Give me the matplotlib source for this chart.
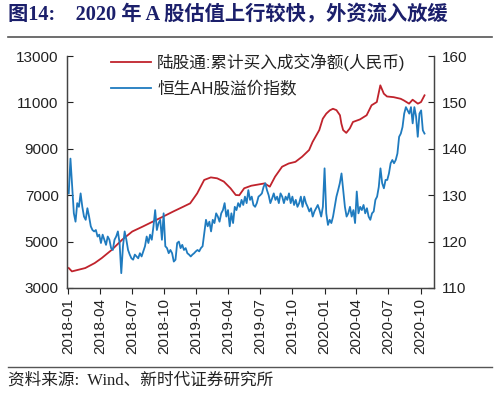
import matplotlib
matplotlib.use("Agg")
import matplotlib.pyplot as plt
import matplotlib.dates as mdates
import pandas as pd
import numpy as np

# ---------------- data ----------------
red_dates = ["2018-01-02", "2018-01-11", "2018-02-18", "2018-03-17", "2018-04-06",
             "2018-05-05", "2018-06-03", "2018-07-02", "2018-08-01", "2018-08-30",
             "2018-09-28", "2018-10-27", "2018-11-25", "2018-12-14", "2019-01-03",
             "2019-01-23", "2019-02-11", "2019-03-01", "2019-03-20", "2019-04-08",
             "2019-04-23", "2019-05-03", "2019-05-17", "2019-06-06", "2019-07-14",
             "2019-07-29", "2019-08-13", "2019-09-02", "2019-09-21", "2019-10-10",
             "2019-10-29", "2019-11-18", "2019-11-28", "2019-12-17", "2019-12-27",
             "2020-01-06", "2020-01-16", "2020-01-25", "2020-02-04", "2020-02-14",
             "2020-02-18", "2020-02-23", "2020-03-03", "2020-03-13", "2020-03-22",
             "2020-04-11", "2020-04-30", "2020-05-14", "2020-05-29", "2020-06-08",
             "2020-06-18", "2020-06-27", "2020-07-16", "2020-08-05", "2020-08-14",
             "2020-08-29", "2020-09-08", "2020-09-23", "2020-10-02", "2020-10-12"]
red_values = [3860, 3716, 3860, 4075, 4290,
              4650, 5080, 5436, 5650, 5866,
              6080, 6300, 6510, 6650, 7080,
              7660, 7770, 7730, 7590, 7300,
              7010, 7000, 7300, 7410, 7510,
              7370, 7800, 8230, 8370, 8440,
              8660, 8950, 9300, 9810, 10300,
              10520, 10660, 10730, 10670, 10450,
              10090, 9810, 9690, 9880, 10160,
              10270, 10450, 10880, 11020, 11740,
              11380, 11260, 11230, 11160, 11090,
              10950, 11120, 10950, 11020, 11310]

blue_start = "2018-01-02"
blue_end = "2020-10-12"
blue_values = [
    130.4, 137.9, 131.8, 126.1, 124.3, 128.3, 127.5, 130.4, 127.5, 125.4,
    124.7, 127.2, 125.4, 123.3, 122.5, 122.2, 122.5, 121.1, 121.5, 119.7,
    121.5, 120.4, 119.3, 121.1, 120.4, 118.6, 118.2, 120.4, 121.1, 122.2,
    119.7, 113.2, 119.0, 122.2, 120.4, 118.2, 117.2, 116.4, 116.1, 117.2,
    116.8, 116.4, 117.5, 116.8, 117.9, 119.0, 121.1, 119.7, 121.5, 120.4,
    123.3, 126.8, 122.5, 124.0, 124.7, 120.4, 126.1, 119.0, 118.6, 117.5,
    118.2, 117.5, 115.7, 116.1, 119.7, 120.0, 118.6, 119.3, 118.2, 118.6,
    117.5, 117.2, 116.8, 117.2, 117.5, 117.9, 118.2, 117.9, 118.6, 119.0,
    121.8, 124.7, 123.3, 124.3, 122.2, 124.7, 124.0, 126.1, 125.4, 124.3,
    126.1, 126.8, 128.3, 125.4, 126.8, 123.3, 126.1, 124.0, 127.5, 126.8,
    128.3, 127.5, 129.0, 127.9, 129.7, 128.3, 131.1, 129.0, 129.7, 127.9,
    127.5,
    128.3, 129.7, 130.0, 130.4, 131.8, 132.6, 131.1, 130.0, 128.3, 129.3,
    130.4, 129.0, 129.7, 128.3, 130.4, 129.7, 128.3, 129.7, 129.0, 130.4,
    128.3, 129.7, 127.9, 129.0, 127.5, 128.3, 129.7, 127.5, 129.7, 128.3,
    127.5, 126.5, 127.2, 125.4, 126.5, 127.2, 127.9, 126.8, 125.4, 127.5,
    135.8, 126.1, 123.6, 124.7, 124.0, 125.4, 127.5, 129.7, 131.1, 132.6,
    134.7, 131.1, 127.5, 125.4, 126.1, 127.5, 125.4, 126.8, 124.0, 130.8,
    126.1, 127.5, 126.8, 127.9, 126.1, 127.2, 125.4, 124.7, 126.1, 126.5,
    129.0, 129.7, 131.8, 135.8, 132.6, 131.5, 133.3, 133.3, 134.7, 136.9,
    137.6, 136.9, 137.6, 139.0, 142.6, 143.3, 144.7, 147.6, 149.0, 148.3,
    147.6, 149.0, 145.5, 149.0, 147.0, 142.6, 147.6, 148.3, 144.0, 143.3]

red_label = "陆股通:累计买入成交净额(人民币)"
blue_label = "恒生AH股溢价指数"
title_text = "图14:    2020 年 A 股估值上行较快，外资流入放缓"
source_text = "资料来源:  Wind、新时代证券研究所"
tick_months = ["2018-01", "2018-04", "2018-07", "2018-10", "2019-01", "2019-04",
               "2019-07", "2019-10", "2020-01", "2020-04", "2020-07", "2020-10"]

# ---------------- plot ----------------
plt.rcParams['font.family'] = ['Liberation Sans', 'Noto Sans CJK SC']
RED = "#c0232c"
BLUE = "#1f7bbf"

fig = plt.figure(figsize=(5.0, 3.98), dpi=100)
ax = fig.add_axes([0.134, 0.2764, 0.734, 0.5826])
ax2 = ax.twinx()

rd = pd.to_datetime(red_dates)
bd = pd.date_range(blue_start, blue_end, periods=len(blue_values))

l1, = ax.plot(rd, red_values, color=RED, lw=1.3)
l2, = ax2.plot(bd, blue_values, color=BLUE, lw=1.3)

ax.set_ylim(3000, 13000)
ax.set_yticks([3000, 5000, 7000, 9000, 11000, 13000])
ax2.set_ylim(110, 160)
ax2.set_yticks([110, 120, 130, 140, 150, 160])
ax.set_xlim(pd.Timestamp("2017-12-28"), pd.Timestamp("2020-11-08"))
ax.set_xticks(pd.to_datetime([m + "-01" for m in tick_months]))
ax.set_xticklabels(tick_months, rotation=90)

for a in (ax, ax2):
    a.spines['top'].set_visible(False)
    for s in a.spines.values():
        s.set_color('#444444')
        s.set_linewidth(0.9)
ax.tick_params(axis='y', direction='in', length=4, labelsize=11, colors='#222222', pad=6)
ax2.tick_params(axis='y', direction='in', length=4, labelsize=11, colors='#222222', pad=6)
ax.tick_params(axis='x', direction='out', length=4, labelsize=11, colors='#222222')

leg = ax.legend([l1, l2], [red_label, blue_label], loc='upper left',
                bbox_to_anchor=(0.08, 1.075), frameon=False, fontsize=12,
                handlelength=2.4, handletextpad=0.35, labelspacing=0.6)
for t in leg.get_texts():
    t.set_color('#222222')

fig.text(0.016, 0.962, title_text, fontsize=14.6, fontweight='bold', color='#1b1f6b',
         family=['Liberation Serif', 'Noto Sans CJK SC'], va='center', ha='left')
fig.add_artist(plt.Line2D([0.016, 0.984], [0.907, 0.907], color='#555555', lw=1.2))
fig.add_artist(plt.Line2D([0.016, 0.984], [0.078, 0.078], color='#555555', lw=1.0))
fig.text(0.016, 0.043, source_text, fontsize=12, color='#222222',
         family=['Liberation Serif', 'Noto Sans CJK SC'], va='center', ha='left')

fig.savefig("out.png", dpi=100)
